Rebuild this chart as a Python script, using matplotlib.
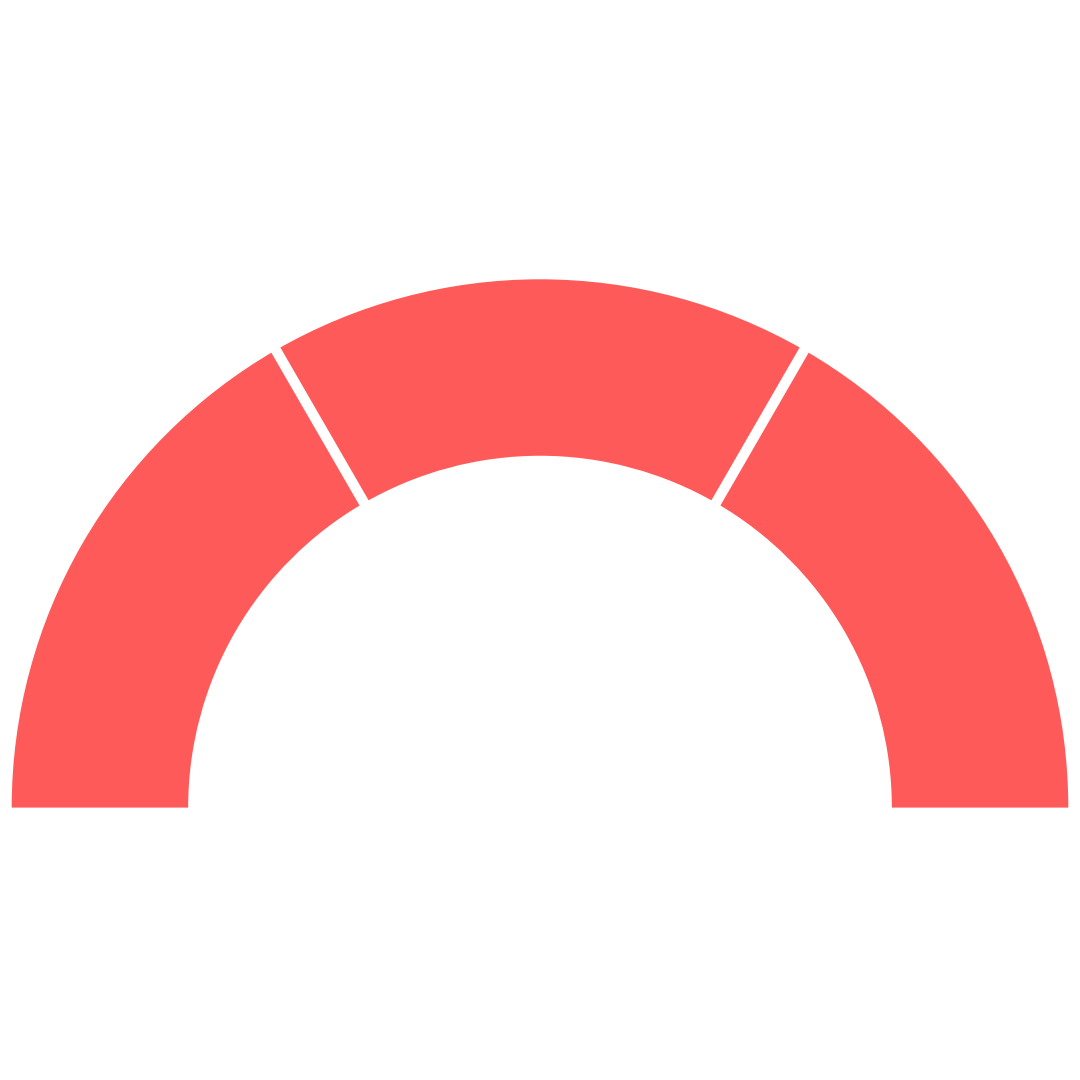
import numpy as np
import matplotlib
matplotlib.use("Agg")
from matplotlib import pyplot as plt
from matplotlib.patches import Rectangle

# gauge: three equal bands on the upper half, lower half hidden
segments = ["low", "mid", "high"]
values = [1, 1, 1]
hidden = sum(values)
band_color = "#FF5A5A"

# circle centre (px from left / from bottom) and outer radius (px)
cx, cy, R = 540.0, 1080 - 807.6, 528.3
cut = (807.6 - 801) / R      # flat bottom sits a bit above the centre

fig = plt.figure(figsize=(10.8, 10.8), dpi=100)
ax = fig.add_axes([0, 0, 1, 1])

wedges, _ = ax.pie(values + [hidden],
                   colors=[band_color] * len(values) + ["white"],
                   startangle=180, counterclock=False,
                   radius=1.0,
                   wedgeprops=dict(width=0.334, linewidth=0))
wedges[-1].set_visible(False)

clip = Rectangle((-2, cut), 4, 3, transform=ax.transData)
for w in wedges[:-1]:
    w.set_clip_path(clip)

# white gaps between the bands
total = sum(values) * 2
acc = 0
for v in values[:-1]:
    acc += v
    ang = np.pi - acc / total * 2 * np.pi
    r = np.array([0.5, 1.1])
    ax.plot(r * np.cos(ang), r * np.sin(ang), color="white", lw=7.5,
            solid_capstyle="butt", zorder=5)

ax.set_aspect("equal")
ax.set_xlim(-cx / R, (1080 - cx) / R)
ax.set_ylim(-cy / R, (1080 - cy) / R)
ax.axis("off")

plt.savefig("out.png", dpi=100, facecolor="white")
